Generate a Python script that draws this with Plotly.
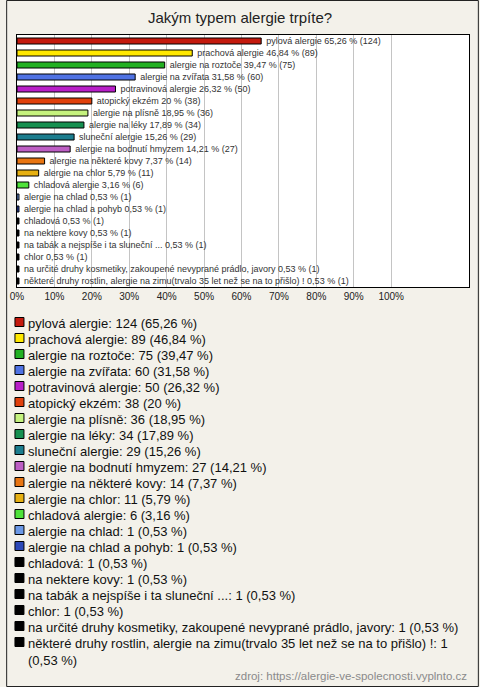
import plotly.graph_objects as go

title = "Jakým typem alergie trpíte?"
source = "zdroj: https://alergie-ve-spolecnosti.vyplnto.cz"

categories = [
    "pylová alergie",
    "prachová alergie",
    "alergie na roztoče",
    "alergie na zvířata",
    "potravinová alergie",
    "atopický ekzém",
    "alergie na plísně",
    "alergie na léky",
    "sluneční alergie",
    "alergie na bodnutí hmyzem",
    "alergie na některé kovy",
    "alergie na chlor",
    "chladová alergie",
    "alergie na chlad",
    "alergie na chlad a pohyb",
    "chladová",
    "na nektere kovy",
    "na tabák a nejspíše i ta sluneční ...",
    "chlor",
    "na určité druhy kosmetiky, zakoupené nevyprané prádlo, javory",
    "některé druhy rostlin, alergie na zimu(trvalo 35 let než se na to přišlo) !",
]
counts = [124, 89, 75, 60, 50, 38, 36, 34, 29, 27, 14, 11, 6, 1, 1, 1, 1, 1, 1, 1, 1]
percents = [65.26, 46.84, 39.47, 31.58, 26.32, 20, 18.95, 17.89, 15.26, 14.21,
            7.37, 5.79, 3.16, 0.53, 0.53, 0.53, 0.53, 0.53, 0.53, 0.53, 0.53]
colors = ["#c41a0e", "#ffe800", "#22b022", "#4f72e3", "#b81ec8", "#e0400c",
          "#c5f27e", "#169050", "#1c7d8e", "#bd5ec4", "#e87512", "#e6b012",
          "#4fe23a", "#6b98e6", "#2c48b8", "#000000", "#000000", "#000000",
          "#000000", "#000000", "#000000"]
tick_values = [0, 10, 20, 30, 40, 50, 60, 70, 80, 90, 100]
tick_labels = ["0%", "10%", "20%", "30%", "40%", "50%", "60%", "70%", "80%", "90%", "100%"]


def fmt(p):
    s = ("%.2f" % p).rstrip("0").rstrip(".")
    return s.replace(".", ",")


W, H = 480, 687
L, R, T, B = 11, 470, 35, 287
FONT = "Liberation Sans, Arial, sans-serif"


def px(x):
    return (x - L) / (R - L)


def py(y):
    return (B - y) / (B - T)


n = len(categories)
bar_text = ["\u00a0\u00a0" + c + " " + fmt(p) + " % (" + str(v) + ")"
            for c, p, v in zip(categories, percents, counts)]

fig = go.Figure()
fig.add_trace(go.Bar(
    y=list(range(n)), x=percents, orientation="h",
    marker=dict(color=colors, line=dict(color="#000000", width=1)),
    width=0.5,
    text=bar_text, textposition="outside",
    textfont=dict(size=9, color="#333333", family=FONT),
    constraintext="none", cliponaxis=False,
    hoverinfo="skip", showlegend=False,
))

annotations = []
shapes = []
row0, step = 322, 16
for i, (c, p, v) in enumerate(zip(categories, percents, counts)):
    yc = row0 + step * i
    label = c + ": " + str(v) + " (" + fmt(p) + " %)"
    if len(label) > 75:
        cut = label.rfind(" ", 0, 80)
        label = label[:cut] + "<br>" + label[cut + 1:]
    annotations.append(dict(
        x=px(20), y=py(yc - 8.5), xref="paper", yref="paper",
        xanchor="left", yanchor="top", align="left", showarrow=False,
        text=label, font=dict(size=13, color="#111111", family=FONT)))
    shapes.append(dict(
        type="rect", xref="paper", yref="paper",
        xsizemode="pixel", ysizemode="pixel",
        xanchor=px(13.5), yanchor=py(yc),
        x0=-4.5, x1=4.5, y0=-4.5, y1=4.5,
        fillcolor=colors[i], line=dict(color="#000000", width=1)))

annotations.append(dict(
    x=px(470), y=py(676), xref="paper", yref="paper",
    xanchor="right", yanchor="middle", showarrow=False,
    text=source, font=dict(size=11.5, color="#8a8a8a", family=FONT)))

shapes.append(dict(
    type="rect", xref="paper", yref="paper",
    x0=px(0.5), x1=px(W - 0.5), y0=py(0.5), y1=py(H - 0.5),
    line=dict(color="#222222", width=1), fillcolor="rgba(0,0,0,0)", layer="below"))

fig.update_layout(
    width=W, height=H,
    margin=dict(l=L, r=W - R, t=T, b=H - B, pad=0),
    paper_bgcolor="#f3f1ea", plot_bgcolor="#ffffff",
    title=dict(text=title, x=0.5, xanchor="center", y=1 - 18 / H, yanchor="middle",
               font=dict(size=15, color="#222222", family=FONT)),
    xaxis=dict(range=[0, 120.8], tickvals=tick_values, ticktext=tick_labels,
               showgrid=True, gridcolor="#c4c4c4", gridwidth=1,
               showline=True, linecolor="#000000", linewidth=1, mirror=True,
               ticks="", ticklen=0, zeroline=False, fixedrange=True,
               tickfont=dict(size=10, color="#222222", family=FONT)),
    yaxis=dict(range=[n - 0.5, -0.5], showticklabels=False, ticks="",
               showgrid=False, zeroline=False, fixedrange=True,
               showline=True, linecolor="#000000", linewidth=1, mirror=True),
    annotations=annotations, shapes=shapes,
    bargap=0.5, showlegend=False,
)

fig.write_html("out.html", config={"displayModeBar": False},
               post_script="document.body.style.margin='0';document.body.style.overflow='hidden';")
